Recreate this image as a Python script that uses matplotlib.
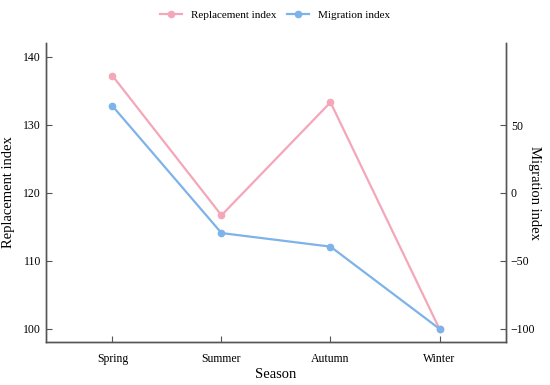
import matplotlib
matplotlib.use('Agg')
import matplotlib.pyplot as plt

plt.rcParams['font.family'] = ['Liberation Serif', 'DejaVu Serif']

seasons = ['Spring', 'Summer', 'Autumn', 'Winter']
replacement = [137.2, 116.7, 133.3, 100.0]
migration = [64.0, -29.5, -39.5, -100.0]

pink = '#F4A7B9'
blue = '#7EB3E9'
spine_col = '#555555'

fig = plt.figure(figsize=(5.5, 3.85), dpi=100)
ax = fig.add_axes([0.0836, 0.112, 0.8364, 0.776])
ax2 = ax.twinx()

x = list(range(len(seasons)))
l1, = ax.plot(x, replacement, color=pink, lw=1.6, marker='o', ms=4.5, label='Replacement index')
l2, = ax2.plot(x, migration, color=blue, lw=1.6, marker='o', ms=4.5, label='Migration index')

ax.set_xlim(-0.61, 3.61)
ax.set_ylim(98.1, 142.0)
ax2.set_ylim(-109.6, 110.3)
ax.set_yticks([100, 110, 120, 130, 140])
ax2.set_yticks([-100, -50, 0, 50])
ax.set_xticks(x)
ax.set_xticklabels(seasons)

for a in (ax, ax2):
    a.spines['top'].set_visible(False)
    for s in a.spines.values():
        s.set_color(spine_col)
        s.set_linewidth(1.0)
    a.tick_params(direction='in', length=4, width=0.8, color=spine_col, labelsize=8.5)
ax.tick_params(axis='x', pad=8)

ax.set_xlabel('Season', fontsize=10.5, labelpad=2)
ax.set_ylabel('Replacement index', fontsize=10.5)
ax.yaxis.set_label_coords(-0.067, 0.5)
ax2.set_ylabel('Migration index', fontsize=10.5, rotation=270, va='center')
ax2.yaxis.set_label_coords(1.063, 0.5)

fig.legend(handles=[l1, l2], loc='upper center', bbox_to_anchor=(0.5, 1.0), ncol=2,
           frameon=False, fontsize=8, handlelength=2.0, columnspacing=1.0, handletextpad=0.8)

fig.savefig('out.png', dpi=100)
